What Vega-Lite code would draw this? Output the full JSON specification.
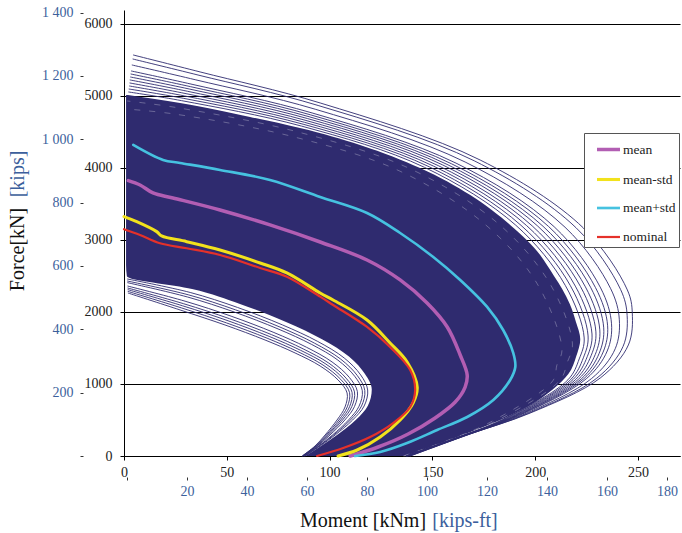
{
  "$schema": "https://vega.github.io/schema/vega-lite/v6.json",
  "width": 556,
  "height": 446,
  "autosize": {"type": "none"},
  "padding": {"left": 124, "top": 10, "right": 2, "bottom": 77},
  "background": "white",
  "config": {"view": {"stroke": null}, "font": "Liberation Serif"},
  "datasets": {
    "fill": [
      {"F": 0, "lo": 88.3, "hi": 136.7},
      {"F": 139, "lo": 95.8, "hi": 150.4},
      {"F": 292, "lo": 103.6, "hi": 164.7},
      {"F": 500, "lo": 112.7, "hi": 183.0},
      {"F": 697, "lo": 118.6, "hi": 197.0},
      {"F": 925, "lo": 120.5, "hi": 208.5},
      {"F": 1139, "lo": 117.2, "hi": 216.1},
      {"F": 1383, "lo": 109.4, "hi": 219.9},
      {"F": 1622, "lo": 96.3, "hi": 221.9},
      {"F": 1861, "lo": 78.8, "hi": 219.8},
      {"F": 2112, "lo": 56.4, "hi": 216.8},
      {"F": 2320, "lo": 33.1, "hi": 213.1},
      {"F": 2497, "lo": 1.4, "hi": 209.2},
      {"F": 2653, "lo": 1.0, "hi": 205.7},
      {"F": 2792, "lo": 1.0, "hi": 202.4},
      {"F": 3209, "lo": 1.0, "hi": 187.8},
      {"F": 3625, "lo": 1.0, "hi": 168.4},
      {"F": 4000, "lo": 1.0, "hi": 144.0},
      {"F": 4320, "lo": 1.0, "hi": 114.8},
      {"F": 4556, "lo": 1.0, "hi": 85.6},
      {"F": 4709, "lo": 1.0, "hi": 61.3},
      {"F": 4903, "lo": 1.0, "hi": 27.3},
      {"F": 5014, "lo": 1.0, "hi": 1.9}
    ],
    "streak": [
      {"id": "w1", "M": 1.5, "F": 4931}, {"id": "w1", "M": 25.8, "F": 4838}, {"id": "w1", "M": 84.1, "F": 4504}, {"id": "w1", "M": 139.6, "F": 3983}, {"id": "w1", "M": 182.5, "F": 3215}, {"id": "w1", "M": 207.3, "F": 2385}, {"id": "w1", "M": 218.1, "F": 1555}, {"id": "w1", "M": 215.6, "F": 1302}, {"id": "w1", "M": 212.0, "F": 1052}, {"id": "w1", "M": 180.8, "F": 485}, {"id": "w1", "M": 157.1, "F": 209}, {"id": "w1", "M": 136.3, "F": 0},
      {"id": "w2", "M": 1.0, "F": 4819}, {"id": "w2", "M": 23.9, "F": 4752}, {"id": "w2", "M": 82.2, "F": 4435}, {"id": "w2", "M": 133.8, "F": 3961}, {"id": "w2", "M": 175.3, "F": 3224}, {"id": "w2", "M": 200.8, "F": 2399}, {"id": "w2", "M": 213.0, "F": 1480}, {"id": "w2", "M": 210.5, "F": 1260}, {"id": "w2", "M": 208.6, "F": 1047}, {"id": "w2", "M": 177.9, "F": 466}, {"id": "w2", "M": 155.2, "F": 193}, {"id": "w2", "M": 135.8, "F": 0}
    ],
    "thin": [
      {"id": "oa", "M": 2.1, "F": 5056}, {"id": "oa", "M": 28.0, "F": 4935}, {"id": "oa", "M": 86.3, "F": 4582}, {"id": "oa", "M": 146.2, "F": 4008}, {"id": "oa", "M": 190.5, "F": 3206}, {"id": "oa", "M": 214.6, "F": 2370}, {"id": "oa", "M": 223.8, "F": 1639}, {"id": "oa", "M": 221.4, "F": 1349}, {"id": "oa", "M": 215.9, "F": 1058}, {"id": "oa", "M": 184.1, "F": 507}, {"id": "oa", "M": 159.3, "F": 228}, {"id": "oa", "M": 136.9, "F": 0},
      {"id": "o1", "M": 2.3, "F": 5097}, {"id": "o1", "M": 28.8, "F": 4968}, {"id": "o1", "M": 87.1, "F": 4608}, {"id": "o1", "M": 148.4, "F": 4017}, {"id": "o1", "M": 193.1, "F": 3203}, {"id": "o1", "M": 217.1, "F": 2365}, {"id": "o1", "M": 225.7, "F": 1667}, {"id": "o1", "M": 223.4, "F": 1364}, {"id": "o1", "M": 217.2, "F": 1060}, {"id": "o1", "M": 185.2, "F": 515}, {"id": "o1", "M": 160.1, "F": 235}, {"id": "o1", "M": 137.1, "F": 0},
      {"id": "ob", "M": 2.5, "F": 5139}, {"id": "ob", "M": 29.5, "F": 5000}, {"id": "ob", "M": 87.8, "F": 4634}, {"id": "ob", "M": 150.6, "F": 4025}, {"id": "ob", "M": 195.8, "F": 3200}, {"id": "ob", "M": 219.5, "F": 2359}, {"id": "ob", "M": 227.6, "F": 1695}, {"id": "ob", "M": 225.3, "F": 1380}, {"id": "ob", "M": 218.4, "F": 1062}, {"id": "ob", "M": 186.3, "F": 522}, {"id": "ob", "M": 160.8, "F": 241}, {"id": "ob", "M": 137.3, "F": 0},
      {"id": "o2", "M": 2.7, "F": 5181}, {"id": "o2", "M": 30.2, "F": 5032}, {"id": "o2", "M": 88.5, "F": 4660}, {"id": "o2", "M": 152.8, "F": 4033}, {"id": "o2", "M": 198.5, "F": 3196}, {"id": "o2", "M": 222.0, "F": 2354}, {"id": "o2", "M": 229.5, "F": 1724}, {"id": "o2", "M": 227.2, "F": 1396}, {"id": "o2", "M": 219.7, "F": 1064}, {"id": "o2", "M": 187.4, "F": 529}, {"id": "o2", "M": 161.5, "F": 247}, {"id": "o2", "M": 137.5, "F": 0},
      {"id": "oc", "M": 2.8, "F": 5223}, {"id": "oc", "M": 30.9, "F": 5065}, {"id": "oc", "M": 89.3, "F": 4686}, {"id": "oc", "M": 155.0, "F": 4042}, {"id": "oc", "M": 201.2, "F": 3193}, {"id": "oc", "M": 224.4, "F": 2349}, {"id": "oc", "M": 231.4, "F": 1752}, {"id": "oc", "M": 229.2, "F": 1411}, {"id": "oc", "M": 221.0, "F": 1066}, {"id": "oc", "M": 188.5, "F": 536}, {"id": "oc", "M": 162.3, "F": 254}, {"id": "oc", "M": 137.6, "F": 0},
      {"id": "o3", "M": 3.0, "F": 5264}, {"id": "o3", "M": 31.7, "F": 5097}, {"id": "o3", "M": 90.0, "F": 4712}, {"id": "o3", "M": 157.1, "F": 4050}, {"id": "o3", "M": 203.8, "F": 3190}, {"id": "o3", "M": 226.9, "F": 2344}, {"id": "o3", "M": 233.3, "F": 1780}, {"id": "o3", "M": 231.1, "F": 1427}, {"id": "o3", "M": 222.3, "F": 1068}, {"id": "o3", "M": 189.6, "F": 544}, {"id": "o3", "M": 163.0, "F": 260}, {"id": "o3", "M": 137.8, "F": 0},
      {"id": "od", "M": 3.2, "F": 5306}, {"id": "od", "M": 32.4, "F": 5129}, {"id": "od", "M": 90.7, "F": 4738}, {"id": "od", "M": 159.3, "F": 4058}, {"id": "od", "M": 206.5, "F": 3187}, {"id": "od", "M": 229.3, "F": 2339}, {"id": "od", "M": 235.2, "F": 1808}, {"id": "od", "M": 233.0, "F": 1443}, {"id": "od", "M": 223.5, "F": 1070}, {"id": "od", "M": 190.7, "F": 551}, {"id": "od", "M": 163.7, "F": 266}, {"id": "od", "M": 138.0, "F": 0},
      {"id": "o4", "M": 3.4, "F": 5348}, {"id": "o4", "M": 33.1, "F": 5162}, {"id": "o4", "M": 91.5, "F": 4764}, {"id": "o4", "M": 161.5, "F": 4067}, {"id": "o4", "M": 209.2, "F": 3184}, {"id": "o4", "M": 231.8, "F": 2334}, {"id": "o4", "M": 237.1, "F": 1836}, {"id": "o4", "M": 235.0, "F": 1458}, {"id": "o4", "M": 224.8, "F": 1072}, {"id": "o4", "M": 191.8, "F": 558}, {"id": "o4", "M": 164.5, "F": 272}, {"id": "o4", "M": 138.2, "F": 0},
      {"id": "o5", "M": 3.8, "F": 5431}, {"id": "o5", "M": 34.6, "F": 5226}, {"id": "o5", "M": 93.0, "F": 4816}, {"id": "o5", "M": 165.9, "F": 4083}, {"id": "o5", "M": 214.5, "F": 3177}, {"id": "o5", "M": 236.7, "F": 2323}, {"id": "o5", "M": 240.9, "F": 1892}, {"id": "o5", "M": 238.9, "F": 1490}, {"id": "o5", "M": 227.4, "F": 1076}, {"id": "o5", "M": 194.0, "F": 573}, {"id": "o5", "M": 166.0, "F": 285}, {"id": "o5", "M": 138.6, "F": 0},
      {"id": "o6", "M": 4.2, "F": 5514}, {"id": "o6", "M": 36.0, "F": 5291}, {"id": "o6", "M": 94.4, "F": 4868}, {"id": "o6", "M": 170.3, "F": 4100}, {"id": "o6", "M": 219.8, "F": 3171}, {"id": "o6", "M": 241.5, "F": 2313}, {"id": "o6", "M": 244.7, "F": 1949}, {"id": "o6", "M": 242.7, "F": 1521}, {"id": "o6", "M": 229.9, "F": 1080}, {"id": "o6", "M": 196.1, "F": 587}, {"id": "o6", "M": 167.4, "F": 298}, {"id": "o6", "M": 139.0, "F": 0},
      {"id": "o7", "M": 4.4, "F": 5570}, {"id": "o7", "M": 37.0, "F": 5334}, {"id": "o7", "M": 95.4, "F": 4903}, {"id": "o7", "M": 173.2, "F": 4111}, {"id": "o7", "M": 223.4, "F": 3167}, {"id": "o7", "M": 244.8, "F": 2306}, {"id": "o7", "M": 247.2, "F": 1986}, {"id": "o7", "M": 245.3, "F": 1542}, {"id": "o7", "M": 231.6, "F": 1083}, {"id": "o7", "M": 197.6, "F": 597}, {"id": "o7", "M": 168.4, "F": 306}, {"id": "o7", "M": 139.2, "F": 0},
      {"id": "i1", "M": 1.9, "F": 2264}, {"id": "i1", "M": 27.3, "F": 2028}, {"id": "i1", "M": 49.1, "F": 1820}, {"id": "i1", "M": 68.6, "F": 1611}, {"id": "i1", "M": 83.2, "F": 1431}, {"id": "i1", "M": 95.4, "F": 1250}, {"id": "i1", "M": 104.1, "F": 1056}, {"id": "i1", "M": 108.5, "F": 875}, {"id": "i1", "M": 107.5, "F": 681}, {"id": "i1", "M": 103.6, "F": 500}, {"id": "i1", "M": 97.8, "F": 292}, {"id": "i1", "M": 92.9, "F": 139}, {"id": "i1", "M": 86.6, "F": 0},
      {"id": "ia", "M": 1.8, "F": 2287}, {"id": "ia", "M": 27.9, "F": 2057}, {"id": "ia", "M": 49.8, "F": 1849}, {"id": "ia", "M": 69.6, "F": 1636}, {"id": "ia", "M": 84.5, "F": 1450}, {"id": "ia", "M": 96.8, "F": 1263}, {"id": "ia", "M": 105.4, "F": 1064}, {"id": "ia", "M": 109.7, "F": 880}, {"id": "ia", "M": 108.6, "F": 683}, {"id": "ia", "M": 104.5, "F": 500}, {"id": "ia", "M": 98.4, "F": 292}, {"id": "ia", "M": 93.2, "F": 139}, {"id": "ia", "M": 86.8, "F": 0},
      {"id": "i2", "M": 1.8, "F": 2311}, {"id": "i2", "M": 28.5, "F": 2086}, {"id": "i2", "M": 50.6, "F": 1878}, {"id": "i2", "M": 70.6, "F": 1661}, {"id": "i2", "M": 85.8, "F": 1469}, {"id": "i2", "M": 98.2, "F": 1277}, {"id": "i2", "M": 106.7, "F": 1073}, {"id": "i2", "M": 110.9, "F": 885}, {"id": "i2", "M": 109.7, "F": 684}, {"id": "i2", "M": 105.4, "F": 500}, {"id": "i2", "M": 99.0, "F": 292}, {"id": "i2", "M": 93.5, "F": 139}, {"id": "i2", "M": 86.9, "F": 0},
      {"id": "ib", "M": 1.7, "F": 2334}, {"id": "ib", "M": 29.0, "F": 2115}, {"id": "ib", "M": 51.3, "F": 1907}, {"id": "ib", "M": 71.7, "F": 1686}, {"id": "ib", "M": 87.1, "F": 1488}, {"id": "ib", "M": 99.6, "F": 1290}, {"id": "ib", "M": 108.0, "F": 1081}, {"id": "ib", "M": 112.1, "F": 890}, {"id": "ib", "M": 110.8, "F": 686}, {"id": "ib", "M": 106.3, "F": 500}, {"id": "ib", "M": 99.5, "F": 292}, {"id": "ib", "M": 93.8, "F": 139}, {"id": "ib", "M": 87.1, "F": 0},
      {"id": "i3", "M": 1.7, "F": 2361}, {"id": "i3", "M": 29.7, "F": 2150}, {"id": "i3", "M": 52.1, "F": 1942}, {"id": "i3", "M": 72.9, "F": 1715}, {"id": "i3", "M": 88.7, "F": 1511}, {"id": "i3", "M": 101.2, "F": 1306}, {"id": "i3", "M": 109.6, "F": 1091}, {"id": "i3", "M": 113.5, "F": 896}, {"id": "i3", "M": 112.1, "F": 688}, {"id": "i3", "M": 107.4, "F": 500}, {"id": "i3", "M": 100.2, "F": 292}, {"id": "i3", "M": 94.1, "F": 139}, {"id": "i3", "M": 87.3, "F": 0},
      {"id": "ic", "M": 1.6, "F": 2408}, {"id": "ic", "M": 30.9, "F": 2208}, {"id": "ic", "M": 53.6, "F": 2000}, {"id": "ic", "M": 74.9, "F": 1765}, {"id": "ic", "M": 91.3, "F": 1549}, {"id": "ic", "M": 104.0, "F": 1332}, {"id": "ic", "M": 112.2, "F": 1107}, {"id": "ic", "M": 115.9, "F": 906}, {"id": "ic", "M": 114.3, "F": 691}, {"id": "ic", "M": 109.2, "F": 500}, {"id": "ic", "M": 101.4, "F": 292}, {"id": "ic", "M": 94.7, "F": 139}, {"id": "ic", "M": 87.7, "F": 0},
      {"id": "id", "M": 1.5, "F": 2431}, {"id": "id", "M": 31.5, "F": 2237}, {"id": "id", "M": 54.3, "F": 2029}, {"id": "id", "M": 75.9, "F": 1790}, {"id": "id", "M": 92.6, "F": 1568}, {"id": "id", "M": 105.4, "F": 1345}, {"id": "id", "M": 113.5, "F": 1116}, {"id": "id", "M": 117.1, "F": 911}, {"id": "id", "M": 115.5, "F": 693}, {"id": "id", "M": 110.1, "F": 500}, {"id": "id", "M": 102.0, "F": 292}, {"id": "id", "M": 94.9, "F": 139}, {"id": "id", "M": 87.8, "F": 0},
      {"id": "i4", "M": 1.5, "F": 2459}, {"id": "i4", "M": 32.2, "F": 2271}, {"id": "i4", "M": 55.2, "F": 2063}, {"id": "i4", "M": 77.1, "F": 1820}, {"id": "i4", "M": 94.2, "F": 1591}, {"id": "i4", "M": 107.1, "F": 1361}, {"id": "i4", "M": 115.1, "F": 1126}, {"id": "i4", "M": 118.5, "F": 917}, {"id": "i4", "M": 116.8, "F": 695}, {"id": "i4", "M": 111.2, "F": 500}, {"id": "i4", "M": 102.7, "F": 292}, {"id": "i4", "M": 95.4, "F": 139}, {"id": "i4", "M": 88.1, "F": 0}
    ],
    "stats": [
      {"s": "mean", "M": 2.1, "F": 3824}, {"s": "mean", "M": 7.8, "F": 3764}, {"s": "mean", "M": 14.1, "F": 3653}, {"s": "mean", "M": 23.8, "F": 3584}, {"s": "mean", "M": 46.7, "F": 3417}, {"s": "mean", "M": 71.0, "F": 3209}, {"s": "mean", "M": 95.4, "F": 2972}, {"s": "mean", "M": 118.2, "F": 2722}, {"s": "mean", "M": 134.3, "F": 2445}, {"s": "mean", "M": 147.4, "F": 2125}, {"s": "mean", "M": 157.2, "F": 1792}, {"s": "mean", "M": 163.5, "F": 1403}, {"s": "mean", "M": 166.9, "F": 1125}, {"s": "mean", "M": 165.9, "F": 958}, {"s": "mean", "M": 161.1, "F": 750}, {"s": "mean", "M": 151.3, "F": 528}, {"s": "mean", "M": 138.2, "F": 306}, {"s": "mean", "M": 123.6, "F": 125}, {"s": "mean", "M": 110.0, "F": 0},
      {"s": "mean-std", "M": 0.0, "F": 3324}, {"s": "mean-std", "M": 6.2, "F": 3254}, {"s": "mean-std", "M": 15.9, "F": 3116}, {"s": "mean-std", "M": 18.3, "F": 3056}, {"s": "mean-std", "M": 30.5, "F": 2977}, {"s": "mean-std", "M": 46.7, "F": 2861}, {"s": "mean-std", "M": 66.2, "F": 2681}, {"s": "mean-std", "M": 79.2, "F": 2542}, {"s": "mean-std", "M": 95.4, "F": 2264}, {"s": "mean-std", "M": 101.7, "F": 2167}, {"s": "mean-std", "M": 118.2, "F": 1889}, {"s": "mean-std", "M": 129.4, "F": 1570}, {"s": "mean-std", "M": 137.7, "F": 1306}, {"s": "mean-std", "M": 142.6, "F": 958}, {"s": "mean-std", "M": 140.6, "F": 736}, {"s": "mean-std", "M": 134.3, "F": 500}, {"s": "mean-std", "M": 124.6, "F": 264}, {"s": "mean-std", "M": 113.4, "F": 83}, {"s": "mean-std", "M": 104.1, "F": 0},
      {"s": "mean+std", "M": 4.5, "F": 4320}, {"s": "mean+std", "M": 19.0, "F": 4111}, {"s": "mean+std", "M": 27.3, "F": 4070}, {"s": "mean+std", "M": 46.7, "F": 3973}, {"s": "mean+std", "M": 71.0, "F": 3834}, {"s": "mean+std", "M": 95.4, "F": 3598}, {"s": "mean+std", "M": 118.2, "F": 3375}, {"s": "mean+std", "M": 134.3, "F": 3097}, {"s": "mean+std", "M": 150.4, "F": 2764}, {"s": "mean+std", "M": 163.5, "F": 2445}, {"s": "mean+std", "M": 176.6, "F": 2070}, {"s": "mean+std", "M": 184.4, "F": 1750}, {"s": "mean+std", "M": 189.3, "F": 1431}, {"s": "mean+std", "M": 190.3, "F": 1236}, {"s": "mean+std", "M": 187.8, "F": 1056}, {"s": "mean+std", "M": 179.6, "F": 778}, {"s": "mean+std", "M": 166.9, "F": 542}, {"s": "mean+std", "M": 152.3, "F": 361}, {"s": "mean+std", "M": 137.7, "F": 181}, {"s": "mean+std", "M": 124.6, "F": 56}, {"s": "mean+std", "M": 112.4, "F": 0},
      {"s": "nominal", "M": 0.0, "F": 3149}, {"s": "nominal", "M": 7.8, "F": 3070}, {"s": "nominal", "M": 17.5, "F": 2954}, {"s": "nominal", "M": 30.5, "F": 2885}, {"s": "nominal", "M": 46.7, "F": 2792}, {"s": "nominal", "M": 66.2, "F": 2611}, {"s": "nominal", "M": 79.2, "F": 2491}, {"s": "nominal", "M": 95.4, "F": 2213}, {"s": "nominal", "M": 101.7, "F": 2097}, {"s": "nominal", "M": 118.2, "F": 1792}, {"s": "nominal", "M": 129.4, "F": 1514}, {"s": "nominal", "M": 139.2, "F": 1195}, {"s": "nominal", "M": 141.6, "F": 917}, {"s": "nominal", "M": 139.2, "F": 681}, {"s": "nominal", "M": 130.9, "F": 458}, {"s": "nominal", "M": 119.7, "F": 264}, {"s": "nominal", "M": 106.6, "F": 111}, {"s": "nominal", "M": 93.9, "F": 0}
    ]
  },
  "layer": [
    {
      "layer": [
        {
          "data": {"name": "fill"},
          "mark": {"type": "area", "orient": "horizontal", "interpolate": "monotone", "color": "#2f2b6f"},
          "encoding": {
            "y": {
              "field": "F", "type": "quantitative",
              "scale": {"domain": [0, 6194], "nice": false, "zero": false},
              "axis": {
                "title": "Force[kN]", "values": [0, 1000, 2000, 3000, 4000, 5000, 6000], "format": "d",
                "grid": true, "gridColor": "#000", "gridWidth": 1, "gridOpacity": 1,
                "domainColor": "#000", "tickColor": "#000", "tickSize": 4,
                "labelFont": "Liberation Serif", "labelFontSize": 14, "labelColor": "#222", "labelPadding": 8,
                "labelFlush": false, "labelOverlap": false,
                "titleFont": "Liberation Serif", "titleFontSize": 20, "titleFontWeight": "normal", "titleColor": "#111",
                "titleAngle": -90, "titleX": -107, "titleY": 239, "titleAlign": "center", "titleBaseline": "middle"
              }
            },
            "x": {
              "field": "lo", "type": "quantitative",
              "scale": {"domain": [0, 270.4], "nice": false, "zero": false},
              "axis": {
                "title": "Moment [kNm]", "values": [0, 50, 100, 150, 200, 250], "format": "d",
                "grid": false, "domainColor": "#000", "tickColor": "#000", "tickSize": 4,
                "labelFont": "Liberation Serif", "labelFontSize": 14, "labelColor": "#222", "labelPadding": 5,
                "labelFlush": false, "labelOverlap": false,
                "titleFont": "Liberation Serif", "titleFontSize": 20, "titleFontWeight": "normal", "titleColor": "#111",
                "titleX": 238.5, "titleY": 64, "titleAlign": "center", "titleBaseline": "middle"
              }
            },
            "x2": {"field": "hi"}
          }
        },
        {
          "data": {"name": "streak"},
          "mark": {"type": "line", "interpolate": "catmull-rom", "color": "white", "strokeWidth": 0.7, "opacity": 0.4, "strokeDash": [6, 9]},
          "encoding": {
            "x": {"field": "M", "type": "quantitative"},
            "y": {"field": "F", "type": "quantitative"},
            "detail": {"field": "id", "type": "nominal"},
            "order": {"field": "F", "type": "quantitative"}
          }
        },
        {
          "data": {"name": "thin"},
          "mark": {"type": "line", "interpolate": "catmull-rom", "color": "#2f2b6f", "strokeWidth": 0.9},
          "encoding": {
            "x": {"field": "M", "type": "quantitative"},
            "y": {"field": "F", "type": "quantitative"},
            "detail": {"field": "id", "type": "nominal"},
            "order": {"field": "F", "type": "quantitative"}
          }
        },
        {
          "data": {"name": "stats"},
          "mark": {"type": "line", "interpolate": "catmull-rom", "strokeCap": "round"},
          "encoding": {
            "x": {"field": "M", "type": "quantitative"},
            "y": {"field": "F", "type": "quantitative"},
            "order": {"field": "F", "type": "quantitative"},
            "color": {
              "field": "s", "type": "nominal",
              "scale": {"domain": ["mean", "mean-std", "mean+std", "nominal"], "range": ["#b25eb3", "#f2e21c", "#46c2e0", "#e5312a"]},
              "legend": {
                "title": null, "orient": "none", "legendX": 460, "legendY": 123,
                "symbolType": "stroke", "symbolSize": 529, "symbolOffset": 8,
                "labelFont": "Liberation Serif", "labelFontSize": 13.5, "labelColor": "#222", "labelOffset": 1,
                "padding": 3, "rowPadding": 9, "fillColor": "white", "strokeColor": "#555"
              }
            },
            "strokeWidth": {
              "field": "s", "type": "nominal",
              "scale": {"domain": ["mean", "mean-std", "mean+std", "nominal"], "range": [3.5, 2.2, 2.2, 2.2]},
              "legend": {
                "title": null, "orient": "none", "legendX": 460, "legendY": 123,
                "symbolType": "stroke", "symbolSize": 529, "symbolOffset": 8,
                "labelFont": "Liberation Serif", "labelFontSize": 13.5, "labelColor": "#222", "labelOffset": 1,
                "padding": 3, "rowPadding": 9, "fillColor": "white", "strokeColor": "#555"
              }
            }
          }
        }
      ]
    },
    {
      "data": {"values": [{"kips": 0, "kipft": 0}]},
      "mark": {"type": "point", "opacity": 0},
      "encoding": {
        "x": {
          "field": "kipft", "type": "quantitative",
          "scale": {"domain": [-1, 184.33], "nice": false, "zero": false},
          "axis": {
            "orient": "bottom", "offset": 21, "title": "[kips-ft]",
            "values": [0, 20, 40, 60, 80, 100, 120, 140, 160, 180],
            "labelExpr": "datum.value == 0 ? '' : datum.label",
            "domain": false, "grid": false, "tickColor": "#333", "tickSize": 3,
            "labelFont": "Liberation Serif", "labelFontSize": 14, "labelColor": "#3c5f9c", "labelPadding": 4,
            "labelFlush": false, "labelOverlap": false,
            "titleFont": "Liberation Serif", "titleFontSize": 20, "titleFontWeight": "normal", "titleColor": "#3c5f9c",
            "titleX": 340.5, "titleY": 43, "titleAlign": "center", "titleBaseline": "middle"
          }
        },
        "y": {
          "field": "kips", "type": "quantitative",
          "scale": {"domain": [0, 1408], "nice": false, "zero": false},
          "axis": {
            "orient": "left", "offset": 41, "title": "[kips]",
            "values": [0, 200, 400, 600, 800, 1000, 1200, 1400],
            "labelExpr": "datum.value == 0 ? '' : replace(format(datum.value, ','), ',', ' ')",
            "domain": false, "grid": false, "tickColor": "#333", "tickSize": 3,
            "labelFont": "Liberation Serif", "labelFontSize": 14, "labelColor": "#3c5f9c", "labelPadding": 7,
            "labelFlush": false, "labelOverlap": false,
            "titleFont": "Liberation Serif", "titleFontSize": 20, "titleFontWeight": "normal", "titleColor": "#3c5f9c",
            "titleAngle": -90, "titleX": -66, "titleY": 163.5, "titleAlign": "center", "titleBaseline": "middle"
          }
        }
      }
    }
  ],
  "resolve": {
    "scale": {"x": "independent", "y": "independent"},
    "axis": {"x": "independent", "y": "independent"}
  }
}
